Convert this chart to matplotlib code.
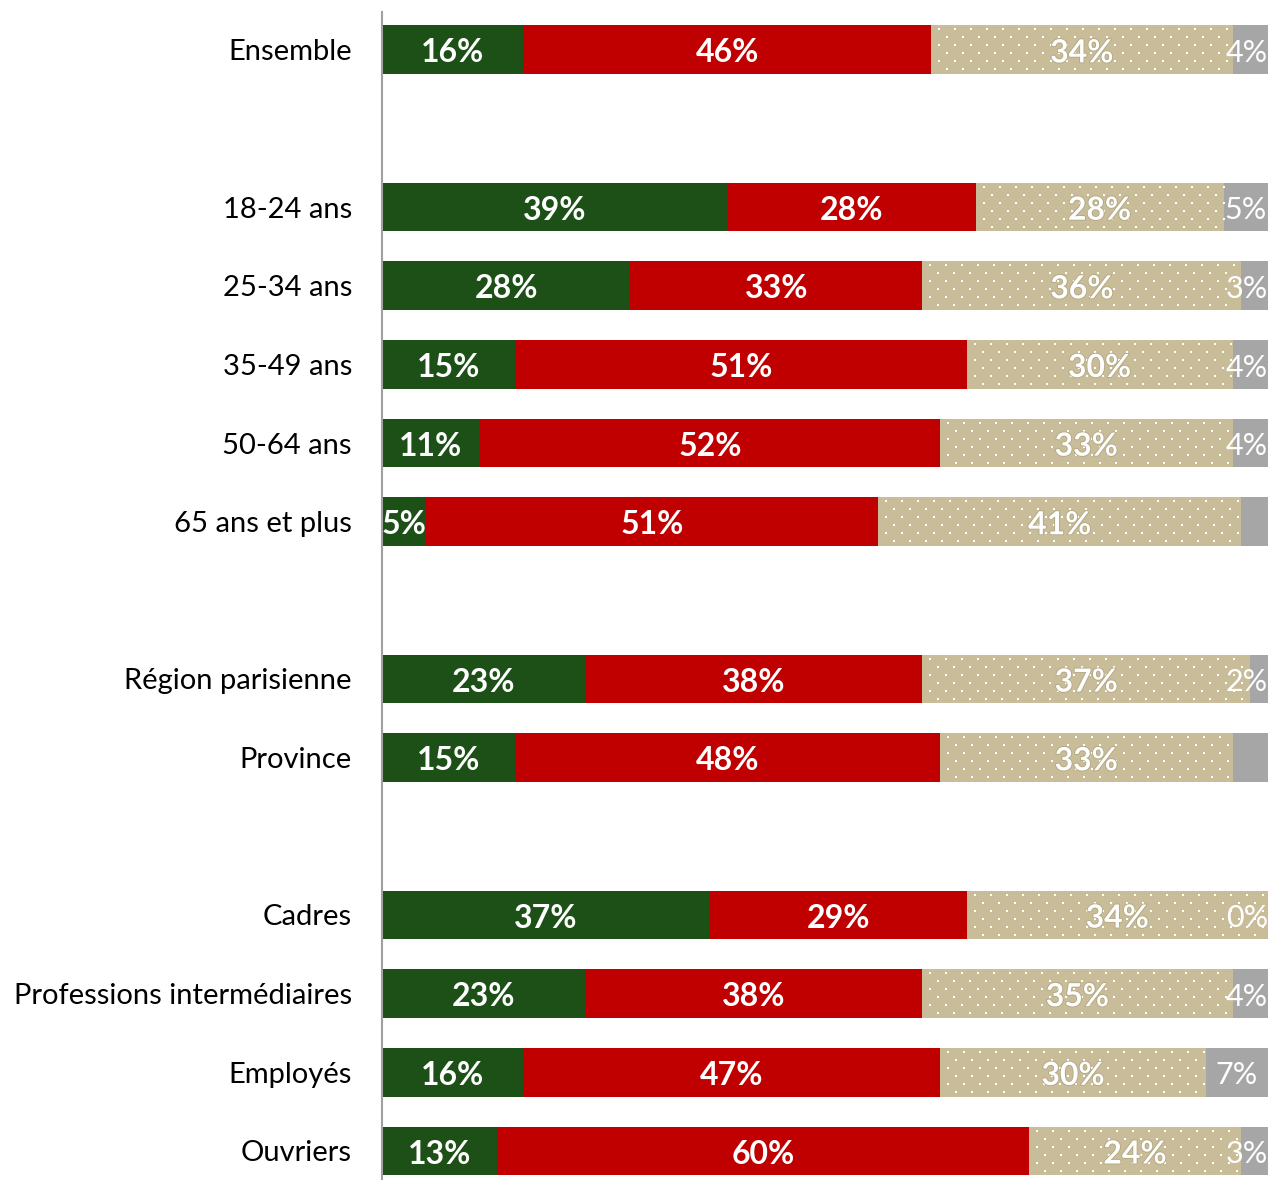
import matplotlib
matplotlib.use("Agg")
import matplotlib.pyplot as plt
import matplotlib.patheffects as pe
import numpy as np

categories = ["Ensemble", "", "18-24 ans", "25-34 ans", "35-49 ans", "50-64 ans",
              "65 ans et plus", "", "Région parisienne", "Province", "",
              "Cadres", "Professions intermédiaires", "Employés", "Ouvriers"]
green = [16, None, 39, 28, 15, 11, 5, None, 23, 15, None, 37, 23, 16, 13]
red = [46, None, 28, 33, 51, 52, 51, None, 38, 48, None, 29, 38, 47, 60]
beige = [34, None, 28, 36, 30, 33, 41, None, 37, 33, None, 34, 35, 30, 24]
grey = [4, None, 5, 3, 4, 4, 3, None, 2, 4, None, 0, 4, 7, 3]
grey_labels = ["4%", "", "5%", "3%", "4%", "4%", "", "", "2%", "", "", "0%", "4%", "7%", "3%"]

plt.rcParams['font.family'] = ['Lato', 'DejaVu Sans']

W, H = 1268, 1180
fig = plt.figure(figsize=(W / 100, H / 100), dpi=100)
ax_left, ax_top = 382, 12
ax = fig.add_axes([ax_left / W, 0, 1 - ax_left / W, 1 - ax_top / H])
ax.set_xlim(0, 100)
ax.set_ylim(14.37, -0.48)

colors = ["#1D5017", "#C00000", "#C8BD98", "#A6A6A6"]
series = [green, red, beige, grey]
h = 0.62

# pixel -> data scale for texture dots
ax_w_px = W - ax_left
ax_h_px = H - ax_top
ux = 100 / ax_w_px
uy = (14.37 + 0.48) / ax_h_px

for i, cat in enumerate(categories):
    if green[i] is None:
        continue
    left = 0
    for s, (vals, col) in enumerate(zip(series, colors)):
        v = vals[i]
        bars = ax.barh(i, v, left=left, height=h, color=col, linewidth=0)
        cx = left + v / 2
        if s == 2:
            patch = bars.patches[0]
            xs, ys = [], []
            top = i - h / 2
            nrows = int(h / (8 * uy)) + 2
            for r in range(nrows):
                yy = top + (4 + 8 * r) * uy
                off = 0 if r % 2 == 0 else 8
                xx = left + (8 + off) * ux
                while xx < left + v:
                    xs.append(xx)
                    ys.append(yy)
                    xx += 16 * ux
            sc = ax.scatter(xs, ys, marker="s", s=2.2, color="white", linewidths=0,
                            zorder=2.5)
            sc.set_clip_path(patch)
        if s in (0, 1):
            ax.text(cx, i + 0.04, f"{v}%", ha="center", va="center", color="white",
                    fontsize=23, fontweight="bold", zorder=4)
        elif s == 2:
            ax.text(cx, i + 0.04, f"{v}%", ha="center", va="center", color="white",
                    fontsize=23, fontweight="bold", zorder=4,
                    path_effects=[pe.withStroke(linewidth=1.2, foreground="#b0a682")])
        else:
            lab = grey_labels[i]
            if lab:
                x = min(cx, 97.6)
                ax.text(x, i + 0.04, lab, ha="center", va="center", color="white",
                        fontsize=22, fontweight="normal", zorder=4)
        left += v

ax.set_yticks(range(len(categories)))
ax.set_yticklabels(categories, fontsize=21)
ax.tick_params(axis="y", length=0, pad=21.6)
ax.set_xticks([])
for sp in ["top", "right", "bottom"]:
    ax.spines[sp].set_visible(False)
ax.spines["left"].set_color("#A0A0A0")
ax.spines["left"].set_linewidth(1.5)

fig.savefig("out.png", dpi=100)
